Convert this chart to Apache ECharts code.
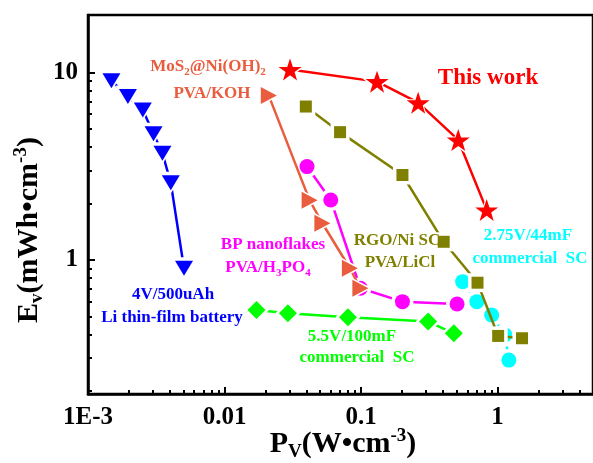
<!DOCTYPE html>
<html><head><meta charset="utf-8">
<script src="https://cdn.jsdelivr.net/npm/echarts@6/dist/echarts.min.js"></script>
<style>html,body{margin:0;padding:0;background:#fff}#c{width:593px;height:463px}</style>
</head><body><div id="c"></div>
<script>
// ---- data (P in W/cm3, E in mWh/cm3) ----
const thisWorkP = [0.0302, 0.131, 0.262, 0.515, 0.832];
const thisWorkE = [10.4, 8.95, 6.91, 4.37, 1.85];
const mosP = [0.0211, 0.042, 0.0521, 0.0828, 0.0989];
const mosE = [7.54, 2.08, 1.57, 0.903, 0.706];
const rgoP = [0.0394, 0.0702, 0.201, 0.403, 0.713, 1.01, 1.51];
const rgoE = [6.59, 4.81, 2.84, 1.25, 0.756, 0.393, 0.382];
const bpP = [0.0402, 0.060, 0.0989, 0.201, 0.505];
const bpE = [3.15, 2.09, 0.706, 0.599, 0.582];
const liP = [0.001485, 0.00196, 0.00252, 0.00302, 0.00351, 0.00404, 0.00505];
const liE = [9.06, 7.45, 6.32, 4.71, 3.71, 2.58, 0.903];
const sc55P = [0.01714, 0.0291, 0.0802, 0.31, 0.478];
const sc55E = [0.541, 0.519, 0.494, 0.469, 0.406];
const sc275P = [0.555, 0.705, 0.905, 1.13, 1.21];
const sc275E = [0.766, 0.599, 0.508, 0.398, 0.292];
const xTickLabels = ['1E-3', '0.01', '0.1', '1'];
const yTickLabels = ['1', '10'];
const xMinorTicks = [0.002,0.003,0.004,0.005,0.006,0.007,0.008,0.009,
                     0.02,0.03,0.04,0.05,0.06,0.07,0.08,0.09,
                     0.2,0.3,0.4,0.5,0.6,0.7,0.8,0.9, 2,3,4];
const yMinorTicks = [0.2,0.3,0.4,0.5,0.6,0.7,0.8,0.9, 2,3,4,5,6,7,8,9];

const X_MIN = 0.001, X_MAX = 5, Y_MIN = 0.1925, Y_MAX = 20.3;
const FF = '"Liberation Serif", "Times New Roman", serif';
const GAP = 7;
const pairs = (p, e) => p.map((v, i) => [v, e[i]]);
const starPath = 'path://M50,0 L61.8,35.1 L98.1,35.1 L68.8,56.7 L79.4,91 L50,70 L20.6,91 L31.2,56.7 L1.9,35.1 L38.2,35.1 Z';

function grow(size) {
  return Array.isArray(size) ? size.map(s => s + GAP) : size + GAP;
}
// each dataset: a line with white "halo" symbols (gap around markers), then coloured markers on top
function mk(k, name, p, e, color, symbol, size, rotate, dashed) {
  const data = pairs(p, e);
  return [{
    name, type: 'line', data, symbol, symbolSize: grow(size), symbolRotate: rotate || 0, showSymbol: true,
    xAxisIndex: 0, yAxisIndex: 0, z: 10 + 2 * k,
    itemStyle: { color: '#fff', borderWidth: 0 },
    lineStyle: { color, width: 2.5, type: dashed ? [5, 3] : 'solid' },
    emphasis: { disabled: true }, silent: true, animation: false
  }, {
    name, type: 'scatter', data, symbol, symbolSize: size, symbolRotate: rotate || 0,
    xAxisIndex: 0, yAxisIndex: 0, z: 11 + 2 * k,
    itemStyle: { color, borderWidth: 0, opacity: 1 },
    emphasis: { disabled: true }, silent: true, animation: false
  }];
}

function logLabel(labels, offset) {
  return v => {
    const e = Math.log10(v), r = Math.round(e);
    if (Math.abs(e - r) > 1e-6) return '';
    return labels[r + offset] || '';
  };
}

function txt(x, y, rich, text, rotation) {
  return { type: 'text', x, y, z: 100, rotation: rotation || 0, silent: true,
    style: { text, rich, align: 'center', verticalAlign: 'middle', textAlign: 'center', textVerticalAlign: 'middle' } };
}
function r(color, size) {
  return {
    m: { fontFamily: FF, fontWeight: 'bold', fontSize: size, fill: color, color, lineHeight: size + 5 },
    s: { fontFamily: FF, fontWeight: 'bold', fontSize: Math.round(size * 0.62), fill: color, color, lineHeight: Math.round(size * 0.6), verticalAlign: 'bottom' },
    u: { fontFamily: FF, fontWeight: 'bold', fontSize: Math.round(size * 0.62), fill: color, color, lineHeight: Math.round(size * 0.6), verticalAlign: 'top' }
  };
}

const chart = echarts.init(document.getElementById('c'), null, { renderer: 'canvas' });
chart.setOption({
  animation: false,
  backgroundColor: '#fff',
  grid: { left: 88, top: 15, width: 510, height: 379, show: true, borderColor: '#000', borderWidth: 2.5 },
  xAxis: [{
    type: 'log', logBase: 10, min: X_MIN, max: X_MAX,
    axisLine: { show: true, onZero: false, lineStyle: { color: '#000', width: 2.5 } },
    axisTick: { show: true, inside: true, length: 7, lineStyle: { color: '#000', width: 2 } },
    axisLabel: { formatter: logLabel(xTickLabels, 3), fontFamily: FF, fontWeight: 'bold', fontSize: 25, color: '#000', margin: 11, showMinLabel: true, showMaxLabel: false },
    splitLine: { show: false }, minorTick: { show: false }
  }, {
    type: 'value', position: 'bottom', min: Math.log10(X_MIN), max: Math.log10(X_MAX),
    axisLine: { show: false, onZero: false }, axisLabel: { show: false }, splitLine: { show: false },
    axisTick: { show: true, inside: true, length: 4, customValues: xMinorTicks.map(Math.log10), lineStyle: { color: '#000', width: 2 } }
  }],
  yAxis: [{
    type: 'log', logBase: 10, min: Y_MIN, max: Y_MAX,
    axisLine: { show: true, onZero: false, lineStyle: { color: '#000', width: 2.5 } },
    axisTick: { show: true, inside: true, length: 7, lineStyle: { color: '#000', width: 2 } },
    axisLabel: { formatter: logLabel(yTickLabels, 0), fontFamily: FF, fontWeight: 'bold', fontSize: 25, color: '#000', margin: 10, showMinLabel: false, showMaxLabel: false },
    splitLine: { show: false }, minorTick: { show: false }
  }, {
    type: 'value', position: 'left', min: Math.log10(Y_MIN), max: Math.log10(Y_MAX),
    axisLine: { show: false, onZero: false }, axisLabel: { show: false }, splitLine: { show: false },
    axisTick: { show: true, inside: true, length: 4, customValues: yMinorTicks.map(Math.log10), lineStyle: { color: '#000', width: 2 } }
  }],
  series: [].concat(
    mk(0, '2.75V/44mF commercial SC', sc275P, sc275E, '#00FFFF', 'circle', 15, 0, true),
    mk(1, 'RGO/Ni SC PVA/LiCl', rgoP, rgoE, '#808000', 'rect', 12),
    mk(2, 'BP nanoflakes PVA/H3PO4', bpP, bpE, '#FF00FF', 'circle', 15),
    mk(3, 'MoS2@Ni(OH)2 PVA/KOH', mosP, mosE, '#E95C3D', 'triangle', [17, 16], -90),
    mk(4, '5.5V/100mF commercial SC', sc55P, sc55E, '#00FF00', 'diamond', [18, 18]),
    mk(5, '4V/500uAh Li thin-film battery', liP, liE, '#0000FF', 'triangle', [18, 15], 180),
    mk(6, 'This work', thisWorkP, thisWorkE, '#FF0000', starPath, [23, 22])
  ),
  graphic: [
    txt(208, 67, r('#E95C3D', 17), '{m|MoS}{s|2}{m|@Ni(OH)}{s|2}'),
    txt(212, 94, r('#E95C3D', 17), '{m|PVA/KOH}'),
    txt(488, 78, r('#FF0000', 23), '{m|This work}'),
    txt(397, 241, r('#808000', 17), '{m|RGO/Ni SC}'),
    txt(400, 263, r('#808000', 17), '{m|PVA/LiCl}'),
    txt(273, 245, r('#FF00FF', 17), '{m|BP nanoflakes}'),
    txt(268, 268, r('#FF00FF', 17), '{m|PVA/H}{s|3}{m|PO}{s|4}'),
    txt(173, 295, r('#0000FF', 17), '{m|4V/500uAh}'),
    txt(172, 318, r('#0000FF', 17), '{m|Li thin-film battery}'),
    txt(352, 337, r('#00FF00', 17), '{m|5.5V/100mF}'),
    txt(357, 358, r('#00FF00', 17), '{m|commercial  SC}'),
    txt(528, 236, r('#00FFFF', 17), '{m|2.75V/44mF}'),
    txt(530, 259, r('#00FFFF', 17), '{m|commercial  SC}'),
    txt(343, 444, r('#000', 30), '{m|P}{s|V}{m|(W•cm}{u|-3}{m|)}'),
    txt(29, 230, r('#000', 30), '{m|E}{s|v}{m|(mWh•cm}{u|-3}{m|)}', Math.PI / 2)
  ]
});
</script></body></html>
